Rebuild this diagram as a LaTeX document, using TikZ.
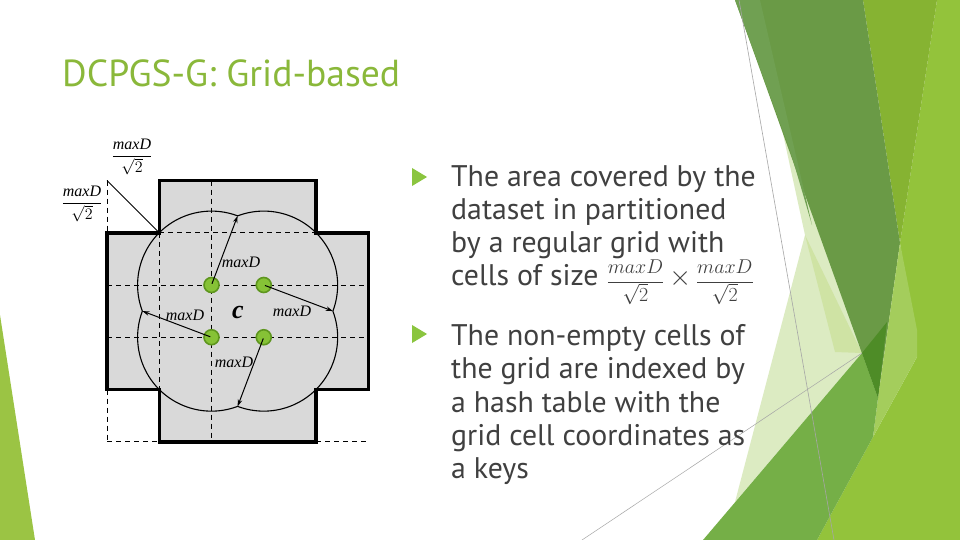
\RequirePackage{fix-cm}
\documentclass[tikz,border=0pt]{standalone}
\usepackage{fontspec}
\usetikzlibrary{arrows.meta,calc}
\newfontfamily\slidefont{PT Sans}
\newfontfamily\serifit{Liberation Serif}
\definecolor{titlegreen}{HTML}{8AB83A}
\definecolor{bodygray}{HTML}{404040}
\definecolor{bulletgreen}{HTML}{8BC53F}
\definecolor{cellgray}{HTML}{D9D9D9}
\definecolor{dotfill}{HTML}{86C236}
\definecolor{dotedge}{HTML}{5E961E}
\definecolor{gDark}{HTML}{6A9A46}
\definecolor{gDarkL}{HTML}{70A052}
\definecolor{gMed}{HTML}{86B332}
\definecolor{gLime}{HTML}{93C33B}
\definecolor{gPale}{HTML}{DCEBC2}
\definecolor{gPale2}{HTML}{CFE3A4}
\definecolor{gPaleLime}{HTML}{A4CD5C}
\definecolor{gDeep}{HTML}{4E8C27}
\definecolor{gLow}{HTML}{75AF47}
\definecolor{gLeft}{HTML}{9BC444}
\definecolor{thinline}{HTML}{A6A6A6}
\newcommand{\mxd}{\mbox{\serifit\itshape maxD}}
\newcommand{\bodyfrac}{{\fontsize{20}{24}\selectfont\raisebox{-2pt}{$\displaystyle\frac{maxD}{\sqrt{2}}$}}}
\tikzset{
  body/.style={anchor=base west, inner sep=0pt, text=bodygray, font=\slidefont\fontsize{29.8}{33}\selectfont},
  titletext/.style={anchor=base west, inner sep=0pt, text=titlegreen, font=\slidefont\fontsize{37.6}{40}\selectfont},
  gridline/.style={dashed, dash pattern=on 5pt off 4pt, line width=0.9pt, black},
  crossline/.style={line width=3.5pt, black, miter limit=10},
  circline/.style={line width=1.1pt, black},
  radarrow/.style={line width=1pt, black, -{Stealth[length=7pt,width=4.5pt]}, shorten <=-7pt},
  dot/.style={circle, fill=dotfill, draw=dotedge, line width=1.6pt, minimum size=15pt, inner sep=0pt},
  lbl/.style={inner sep=0pt, font=\serifit\itshape\fontsize{16}{18}\selectfont},
  fraclbl/.style={inner sep=0pt, font=\serifit\fontsize{16}{18}\selectfont},
}
\begin{document}
\begin{tikzpicture}[x=1pt,y=-1pt]
\useasboundingbox (0,0) rectangle (960,540);
\fill[white] (0,0) rectangle (960,540);
% ---------- decoration ----------
\fill[gLeft] (0,315) -- (35,540) -- (0,540) -- cycle;
\fill[gPale] (780,120) -- (862,353) -- (735,502) -- (805,235) -- cycle;
\fill[gPale2] (805,235) -- (862,353) -- (835,352) -- cycle;
\fill[gLime] (937,0) -- (960,0) -- (960,540) -- (817,540) -- (873,437) -- (917,357) -- (900,243) -- cycle;
\fill[gMed] (863,0) -- (937,0) -- (900,243) -- cycle;
\fill[gDark] (735,0) -- (863,0) -- (900,243) -- (878,398) -- cycle;
\fill[gDarkL] (735,0) -- (760,0) -- (812,225) -- (790,150) -- cycle;
\fill[gPaleLime] (900,243) -- (917,330) -- (917,357) -- (873,437) -- (878,398) -- cycle;
\fill[gLow] (703,540) -- (862,353) -- (878,398) -- (873,437) -- (817,540) -- cycle;
\fill[gDeep] (862,353) -- (887,322) -- (878,398) -- cycle;
\draw[thinline, line width=0.6pt] (739,0) -- (834,540);
\draw[thinline, line width=0.5pt] (582,540) -- (862,353);
% ---------- title ----------
\node[titletext] (title) at (62,87) {DCPGS-G: Grid-based};
% ---------- bullets and text ----------
\fill[bulletgreen] (412,168) -- (427,177) -- (412,186) -- cycle;
\fill[bulletgreen] (412,325) -- (427,334) -- (412,343) -- cycle;
\node[body] (t1) at (451,186) {The area covered by the};
\node[body] (t2) at (451,219) {dataset in partitioned};
\node[body] (t3) at (451,252) {by a regular grid with};
\node[body] (t4) at (451,285) {cells of size \bodyfrac\,{\fontsize{28}{33}\selectfont$\times$}\,\bodyfrac};
\node[body] (t5) at (451,345) {The non-empty cells of};
\node[body] (t6) at (451,378) {the grid are indexed by};
\node[body] (t7) at (451,412) {a hash table with the};
\node[body] (t8) at (451,445) {grid cell coordinates as};
\node[body] (t9) at (451,478) {a keys};
% ---------- figure ----------
\fill[cellgray] (159.25,180.5) -- (316,180.5) -- (316,232.75) -- (368.25,232.75) -- (368.25,389.5)
  -- (316,389.5) -- (316,441.75) -- (159.25,441.75) -- (159.25,389.5) -- (107,389.5)
  -- (107,232.75) -- (159.25,232.75) -- cycle;
% grid lines
\draw[gridline] (107,180.5) -- (107,232.75);
\draw[gridline] (107,389.5) -- (107,441.75);
\draw[gridline] (107,441.75) -- (159.25,441.75);
\draw[gridline] (316,441.75) -- (368.25,441.75);
\draw[gridline] (159.25,232.75) -- (316,232.75);
\draw[gridline] (107,285) -- (368.25,285);
\draw[gridline] (107,337.25) -- (368.25,337.25);
\draw[gridline] (159.25,232.75) -- (159.25,389.5);
\draw[gridline] (211.5,180.5) -- (211.5,441.75);
\draw[line width=1pt] (107,180.5) -- (159.25,232.75);
% circles union
\coordinate (A) at (211.5,285);
\coordinate (B) at (263.75,285);
\coordinate (C) at (211.5,337.25);
\coordinate (D) at (263.75,337.25);
\draw[circline] ($(A)+(159.3:73.9)$) arc[start angle=159.3, end angle=290.7, radius=73.9]
  arc[start angle=-110.7, end angle=20.7, radius=73.9]
  arc[start angle=-20.7, end angle=110.7, radius=73.9]
  arc[start angle=69.3, end angle=200.7, radius=73.9] -- cycle;
% cross outline
\draw[crossline] (159.25,180.5) -- (316,180.5) -- (316,232.75) -- (368.25,232.75) -- (368.25,389.5)
  -- (316,389.5) -- (316,441.75) -- (159.25,441.75) -- (159.25,389.5) -- (107,389.5)
  -- (107,232.75) -- (159.25,232.75) -- cycle;
% cusps
\coordinate (cT) at (237.6,215.9);
\coordinate (cR) at (332.9,311.1);
\coordinate (cL) at (142.4,311.1);
\coordinate (cB) at (237.6,406.4);
% dots
\node[dot] (pA) at (A) {};
\node[dot] (pB) at (B) {};
\node[dot] (pC) at (C) {};
\node[dot] (pD) at (D) {};
\draw[radarrow] (pA) -- (cT);
\draw[radarrow] (pB) -- (cR);
\draw[radarrow] (pC) -- (cL);
\draw[radarrow] (pD) -- (cB);
% labels
\node[lbl] (lA) at (241,262) {maxD};
\node[lbl] (lC) at (185,315) {maxD};
\node[lbl] (lB) at (292,311) {maxD};
\node[lbl] (lD) at (234,362) {maxD};
\node[inner sep=0pt, font=\serifit\itshape\bfseries\fontsize{26}{26}\selectfont] (lc) at (238,312) {c};
\node[fraclbl] (fTop) at (132,157) {{\fontsize{16}{18}\selectfont$\displaystyle\frac{\mxd}{\sqrt{2}}$}};
\node[fraclbl] (fLeft) at (82,204) {{\fontsize{16}{18}\selectfont$\displaystyle\frac{\mxd}{\sqrt{2}}$}};
\end{tikzpicture}
\end{document}
